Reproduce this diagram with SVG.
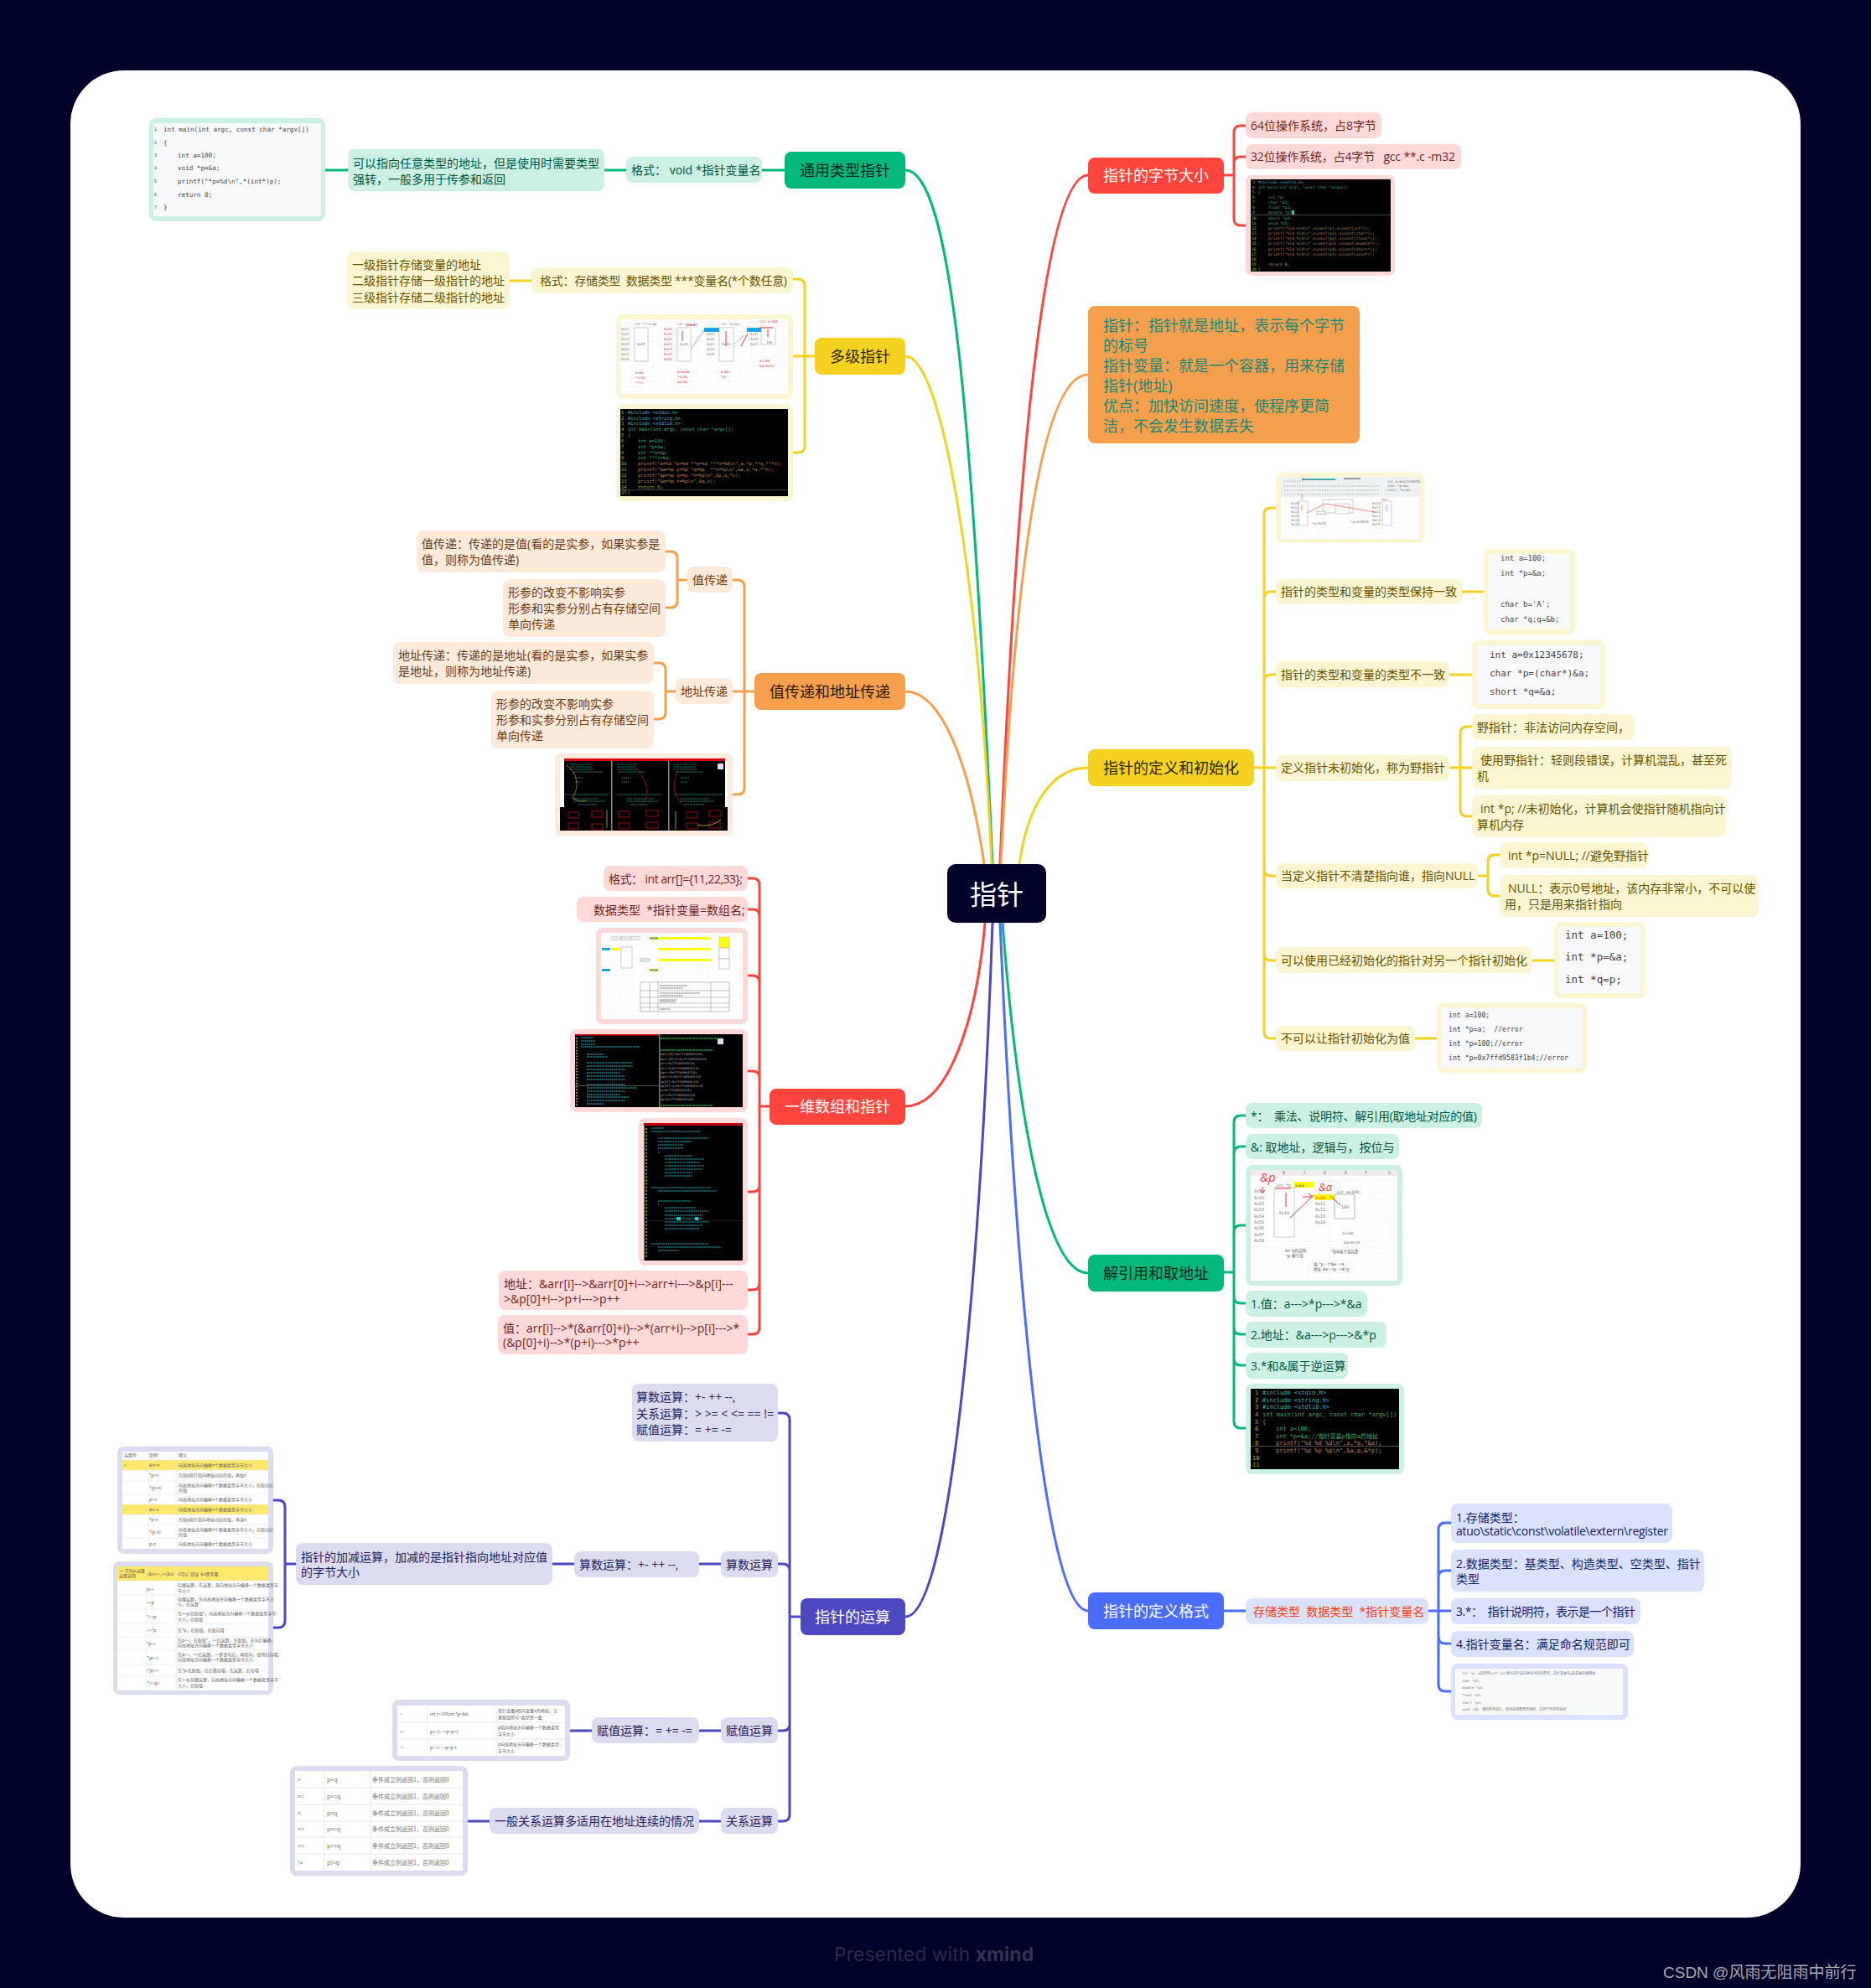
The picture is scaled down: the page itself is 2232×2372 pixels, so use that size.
<svg xmlns="http://www.w3.org/2000/svg" width="2232" height="2372" viewBox="0 0 2232 2372">
<style>
text{white-space:pre;font-family:"Open Sans","Noto Sans CJK SC",sans-serif;font-size:14px;font-variant-ligatures:none;font-feature-settings:"liga" 0,"calt" 0}
.m{font-size:18px;text-anchor:middle}
.w{fill:#fff}.dk{fill:#10231b}
.gl{fill:#ccf1e4}.rl{fill:#ffd9d8}.yl{fill:#fcf5d2}.ol{fill:#fdeadb}.bl{fill:#dbe2fe}.pl{fill:#dcdcf1}
.tg{fill:#00563d}.tr{fill:#701f1c}.ty{fill:#655300}.to{fill:#6c3c10}.tb{fill:#13206b}.tp{fill:#23215e}
.lk{fill:none;stroke-width:3;stroke-linecap:butt}
.cg{stroke:#00b97a}.cr{stroke:#ff443d}.cy{stroke:#f4d21f}.co{stroke:#f6a04d}.cb{stroke:#4a6cff}.cp{stroke:#4c48c0}
.pap{fill:#f8f9fb}.blk{fill:#000}
.c{font-family:"DejaVu Sans Mono","Noto Sans CJK SC",monospace;fill:#444}
.ln{fill:#b0b000}.cd{fill:#3fae6e}.cy2{fill:#2fb8c8}.cs{fill:#b58a5a}
.tt{font-size:5px;fill:#555;font-family:"Noto Sans CJK SC",sans-serif}
.ti{font-size:4px;fill:#777;font-family:"DejaVu Sans Mono","Noto Sans CJK SC",monospace}
.sq{fill:#fff;stroke:#aaa;stroke-width:.6}
.rd{stroke:#f33;stroke-width:1;fill:none}
</style>
<defs>
<pattern id="grid" width="13" height="6" patternUnits="userSpaceOnUse"><path d="M13 0V6M0 6H13" fill="none" stroke="#ececec" stroke-width=".6"/></pattern>
<pattern id="grid2" width="24.4" height="7.3" patternUnits="userSpaceOnUse"><path d="M24.4 0V7.3M0 7.3H24.4" fill="none" stroke="#eeeeee" stroke-width=".8"/></pattern>
</defs>
<rect width="2232" height="2372" fill="#000229"/>
<rect x="84" y="84" width="2064" height="2204" rx="64" fill="#fff"/>

<g id="connectors" class="links">
<path class="lk cg" d="M1080 203C1135 203 1160 500 1184 1031"/>
<path class="lk cy" d="M1080 425C1125 425 1168 700 1183 1031"/>
<path class="lk co" d="M1080 825C1120 825 1155 900 1174 1031"/>
<path class="lk cr" d="M1080 1320C1130 1320 1165 1220 1175 1101"/>
<path class="lk cp" d="M1080 1929C1135 1929 1170 1500 1184 1101"/>
<path class="lk cr" d="M1298 209C1250 209 1215 500 1193 1031"/>
<path class="lk co" d="M1298 447C1240 447 1210 700 1194 1031"/>
<path class="lk cy" d="M1298 916C1255 916 1226 960 1216 1031"/>
<path class="lk cg" d="M1298 1519C1250 1519 1215 1350 1196 1101"/>
<path class="lk cb" d="M1298 1922C1245 1922 1210 1500 1193 1101"/>

<path class="lk cg" d="M388 203H415M720 203H747M909 203H936"/>
<path class="lk cy" d="M608 335H634M946 425H972"/>
<path class="lk cy" d="M946 333H952Q960 333 960 341V532Q960 540 952 540H946"/>
<path class="lk co" d="M900 825H874"/>
<path class="lk co" d="M874 692H880Q888 692 888 700V940Q888 948 880 948H874"/>
<path class="lk co" d="M820 692H808M794 658H800Q808 658 808 666V717Q808 725 800 725H794"/>
<path class="lk co" d="M806 825H794M780 791H786Q794 791 794 799V850Q794 858 786 858H780"/>
<path class="lk cr" d="M918 1320H906"/>
<path class="lk cr" d="M892 1048H898Q906 1048 906 1056V1584Q906 1592 898 1592H892M892 1085H898Q906 1085 906 1093M892 1164H898Q906 1164 906 1172M892 1278H898Q906 1278 906 1286M892 1422H898Q906 1422 906 1414M892 1539H898Q906 1539 906 1531"/>
<path class="lk cp" d="M955 1929H942"/>
<path class="lk cp" d="M928 1686H934Q942 1686 942 1694V2165Q942 2173 934 2173H928M928 1866H934Q942 1866 942 1874M928 2065H934Q942 2065 942 2057"/>
<path class="lk cp" d="M860 1866H834M685 1866H659M860 2065H834M706 2065H680M860 2173H834M584 2173H558"/>
<path class="lk cp" d="M353 1866H340M326 1790H332Q340 1790 340 1798V1934Q340 1942 332 1942H326"/>
<path class="lk cr" d="M1460 209H1472M1486 150H1480Q1472 150 1472 158V261Q1472 269 1480 269H1486M1486 187H1480Q1472 187 1472 195"/>
<path class="lk cy" d="M1496 916H1508M1522 606H1516Q1508 606 1508 614V1231Q1508 1239 1516 1239H1522M1522 706H1516Q1508 706 1508 714M1522 805H1516Q1508 805 1508 813M1522 916H1508M1522 1045H1516Q1508 1045 1508 1037M1522 1146H1516Q1508 1146 1508 1138"/>
<path class="lk cy" d="M1744 706H1770M1729 805H1756M1828 1146H1854M1688 1239H1714"/>
<path class="lk cy" d="M1729 916H1756M1756 867H1750Q1742 867 1742 875V966Q1742 974 1750 974H1756"/>
<path class="lk cy" d="M1763 1045H1775M1789 1020H1783Q1775 1020 1775 1028V1061Q1775 1069 1783 1069H1789"/>
<path class="lk cg" d="M1460 1518H1472M1486 1331H1480Q1472 1331 1472 1339V1696Q1472 1704 1480 1704H1486M1486 1368H1480Q1472 1368 1472 1376M1486 1462H1480Q1472 1462 1472 1470M1486 1555H1480Q1472 1555 1472 1547M1486 1592H1480Q1472 1592 1472 1584M1486 1629H1480Q1472 1629 1472 1621"/>
<path class="lk cb" d="M1460 1922H1486M1704 1922H1731M1731 1817H1724Q1716 1817 1716 1825V2010Q1716 2018 1724 2018H1731M1731 1874H1724Q1716 1874 1716 1882M1731 1961H1724Q1716 1961 1716 1953"/>
</g>

<g id="root"><rect x="1130" y="1031" width="118" height="70" rx="10" fill="#000229"/><text class="m w" x="1189" y="1079" style="font-size:32px">指针</text></g>

<g id="n-void"><rect x="936" y="181" width="144" height="44" rx="8" fill="#00b97a"/><text class="m dk" x="1008" y="210">通用类型指针</text></g>
<g id="n-void-fmt"><rect class="gl" x="747" y="187" width="162" height="31" rx="8"/><text class="tg" x="753" y="208">格式： void *指针变量名</text></g>
<g id="n-void-desc"><rect class="gl" x="415" y="178" width="306" height="50" rx="8"/><text class="tg" x="421" y="200">可以指向任意类型的地址，但是使用时需要类型</text><text class="tg" x="421" y="219">强转，一般多用于传参和返回</text></g>
<g id="n-void-img"><rect class="gl" x="178" y="141" width="210" height="123" rx="8"/><rect class="pap" x="183" y="147" width="200" height="111"/>
<g><text class="c" style="font-size:7.6px" x="195" y="157">int main(int argc, const char *argv[])</text><text class="c" style="font-size:7.6px" x="195" y="173">{</text><text class="c" style="font-size:7.6px" x="212" y="188">int a=100;</text><text class="c" style="font-size:7.6px" x="212" y="203">void *p=&amp;a;</text><text class="c" style="font-size:7.6px" x="212" y="219">printf("*p=%d\n",*(int*)p);</text><text class="c" style="font-size:7.6px" x="212" y="235">return 0;</text><text class="c" style="font-size:7.6px" x="195" y="250">}</text>
<text class="c" style="font-size:5px" x="184" y="156">1</text><text class="c" style="font-size:5px" x="184" y="172">2</text><text class="c" style="font-size:5px" x="184" y="187">3</text><text class="c" style="font-size:5px" x="184" y="202">4</text><text class="c" style="font-size:5px" x="184" y="218">5</text><text class="c" style="font-size:5px" x="184" y="234">6</text><text class="c" style="font-size:5px" x="184" y="249">7</text></g></g>

<g id="n-multi"><rect x="972" y="403" width="108" height="44" rx="8" fill="#f4d21f"/><text class="m" fill="#2a2400" x="1026" y="432">多级指针</text></g>
<g id="n-multi-fmt"><rect class="yl" x="634" y="319" width="312" height="31" rx="8"/><text class="ty" x="644" y="340" textLength="295">格式：存储类型  数据类型 ***变量名(*个数任意)</text></g>
<g id="n-multi-desc"><rect class="yl" x="414" y="300" width="194" height="69" rx="8"/><text class="ty" x="420" y="321">一级指针存储变量的地址</text><text class="ty" x="420" y="340">二级指针存储一级指针的地址</text><text class="ty" x="420" y="360">三级指针存储二级指针的地址</text></g>
<g id="n-multi-img1"><rect class="yl" x="735" y="375" width="211" height="101" rx="8"/><rect x="740" y="381" width="200" height="89" fill="#fff"/><rect x="740" y="381" width="200" height="89" fill="url(#grid)"/>
<rect class="sq" x="757" y="391" width="16" height="40"/><rect class="sq" x="808" y="391" width="16" height="40"/><rect class="sq" x="858" y="391" width="17" height="40"/><rect class="sq" x="908" y="391" width="17" height="20"/>
<rect x="840" y="391" width="18" height="5" fill="#1aa7e8"/><rect x="891" y="391" width="17" height="5" fill="#1aa7e8"/>
<path class="rd" d="M814 395V407M866 395V413M906 391L922 391M916 393V402M884 413L892 398M818 388H829"/><path d="M824 417L840 394M875 411L888 400" stroke="#999" fill="none" stroke-width=".7"/>
<text class="ti" x="757" y="388">int ***n=&amp;q</text><text class="ti" x="808" y="388">int **q=&amp;p</text><text class="ti" x="860" y="388">int *p=&amp;a</text><text class="ti" x="906" y="385" style="fill:#f33">int a=100</text>
<text class="ti" x="741" y="394">0x12</text><text class="ti" x="741" y="400">0x13</text><text class="ti" x="741" y="406">0x14</text><text class="ti" x="741" y="412">0x15</text><text class="ti" x="741" y="418">0x16</text><text class="ti" x="741" y="424">0x17</text><text class="ti" x="741" y="430">0x18</text>
<text class="ti" x="792" y="394" style="fill:#f33">0x20</text><text class="ti" x="792" y="400" style="fill:#f33">0x21</text><text class="ti" x="792" y="406" style="fill:#f33">0x22</text><text class="ti" x="792" y="412" style="fill:#f33">0x23</text><text class="ti" x="792" y="418" style="fill:#f33">0x24</text><text class="ti" x="792" y="424" style="fill:#f33">0x25</text><text class="ti" x="792" y="430" style="fill:#f33">0x26</text>
<text class="ti" x="843" y="400">0x31</text><text class="ti" x="843" y="406">0x32</text><text class="ti" x="843" y="412">0x33</text><text class="ti" x="843" y="418">0x34</text><text class="ti" x="843" y="424">0x35</text>
<text class="ti" x="895" y="400">0x41</text><text class="ti" x="895" y="406">0x42</text><text class="ti" x="895" y="412">0x43</text><text class="ti" x="760" y="412">0x20</text><text class="ti" x="811" y="412">0x30</text><text class="ti" x="861" y="412">0x10</text><text class="ti" x="914" y="410">100</text>
<text class="ti" style="fill:#e33" x="758" y="446">a=0x</text><text class="ti" style="fill:#e33" x="758" y="452">*n=0x</text><text class="ti" style="fill:#e33" x="758" y="458">**n=</text><text class="ti" style="fill:#e33" x="808" y="445">q=0x20</text><text class="ti" style="fill:#e33" x="808" y="451">*q=0x</text><text class="ti" style="fill:#e33" x="808" y="457">&amp;q=0x</text><text class="ti" style="fill:#e33" x="860" y="445">p=&amp;a</text><text class="ti" style="fill:#e33" x="860" y="451">*p=</text><text class="ti" style="fill:#e33" x="906" y="432">a=100</text><text class="ti" style="fill:#e33" x="906" y="438">&amp;a=0x10</text></g>
<g id="n-multi-img2"><rect class="yl" x="735" y="482" width="211" height="116" rx="8"/><rect class="blk" x="740" y="488" width="200" height="104"/>
<g><text class="c ln" style="font-size:5.5px" x="741" y="494">1</text><text class="c cy2" style="font-size:5.5px" x="749" y="494">#include &lt;stdio.h&gt;</text><text class="c ln" style="font-size:5.5px" x="741" y="501">2</text><text class="c cy2" style="font-size:5.5px" x="749" y="501">#include &lt;string.h&gt;</text><text class="c ln" style="font-size:5.5px" x="741" y="507">3</text><text class="c cy2" style="font-size:5.5px" x="749" y="507">#include &lt;stdlib.h&gt;</text><text class="c ln" style="font-size:5.5px" x="741" y="514">4</text><text class="c cd" style="font-size:5.5px" x="749" y="514">int main(int argc, const char *argv[])</text><text class="c ln" style="font-size:5.5px" x="741" y="521">5</text><text class="c cd" style="font-size:5.5px" x="749" y="521">{</text>
<text class="c ln" style="font-size:5.5px" x="741" y="528">6</text><text class="c cd" style="font-size:5.5px" x="761" y="528">int a=100;</text><text class="c ln" style="font-size:5.5px" x="741" y="535">7</text><text class="c cd" style="font-size:5.5px" x="761" y="535">int *p=&amp;a;</text><text class="c ln" style="font-size:5.5px" x="741" y="542">8</text><text class="c cd" style="font-size:5.5px" x="761" y="542">int **q=&amp;p;</text><text class="c ln" style="font-size:5.5px" x="741" y="548">9</text><text class="c cd" style="font-size:5.5px" x="761" y="548">int ***n=&amp;q;</text>
<text class="c ln" style="font-size:5.5px" x="741" y="555">10</text><text class="c cs" style="font-size:5.5px" x="761" y="555">printf("a=%d *p=%d **q=%d ***n=%d\n",a,*p,**q,***n);</text><text class="c ln" style="font-size:5.5px" x="741" y="562">11</text><text class="c cs" style="font-size:5.5px" x="761" y="562">printf("&amp;a=%p p=%p *q=%p  **n=%p\n",&amp;a,p,*q,**n);</text><text class="c ln" style="font-size:5.5px" x="741" y="569">12</text><text class="c cs" style="font-size:5.5px" x="761" y="569">printf("&amp;p=%p q=%p *n=%p\n",&amp;p,q,*n);</text><text class="c ln" style="font-size:5.5px" x="741" y="576">13</text><text class="c cs" style="font-size:5.5px" x="761" y="576">printf("&amp;q=%p n=%p\n",&amp;q,n);</text><text class="c ln" style="font-size:5.5px" x="741" y="583">14</text><text class="c ln" style="font-size:5.5px" x="761" y="583">return 0;</text><text class="c ln" style="font-size:5.5px" x="741" y="589">15</text><text class="c cd" style="font-size:5.5px" x="749" y="589">}</text></g>
<rect x="740" y="584" width="200" height=".8" fill="#555"/></g>

<g id="n-pass"><rect x="900" y="803" width="180" height="44" rx="8" fill="#f6a04d"/><text class="m" fill="#2b1600" x="990" y="832">值传递和地址传递</text></g>
<g id="n-val"><rect class="ol" x="820" y="676" width="54" height="31" rx="8"/><text class="to" x="826" y="697">值传递</text></g>
<g id="n-val-a"><rect class="ol" x="497" y="633" width="297" height="50" rx="8"/><text class="to" x="503" y="654">值传递：传递的是值(看的是实参，如果实参是</text><text class="to" x="503" y="673">值，则称为值传递)</text></g>
<g id="n-val-b"><rect class="ol" x="600" y="691" width="194" height="69" rx="8"/><text class="to" x="606" y="712">形参的改变不影响实参</text><text class="to" x="606" y="731">形参和实参分别占有存储空间</text><text class="to" x="606" y="750">单向传递</text></g>
<g id="n-addr"><rect class="ol" x="806" y="809" width="68" height="31" rx="8"/><text class="to" x="812" y="830">地址传递</text></g>
<g id="n-addr-a"><rect class="ol" x="469" y="766" width="311" height="50" rx="8"/><text class="to" x="475" y="787">地址传递：传递的是地址(看的是实参，如果实参</text><text class="to" x="475" y="806">是地址，则称为地址传递)</text></g>
<g id="n-addr-b"><rect class="ol" x="586" y="824" width="194" height="69" rx="8"/><text class="to" x="592" y="845">形参的改变不影响实参</text><text class="to" x="592" y="864">形参和实参分别占有存储空间</text><text class="to" x="592" y="883">单向传递</text></g>
<g id="n-pass-img"><rect class="ol" x="662" y="899" width="212" height="98" rx="8"/><rect x="668" y="905" width="200" height="86" fill="#fff"/><rect class="blk" x="673" y="907" width="192" height="84"/><rect class="blk" x="668" y="963" width="200" height="28"/>
<rect x="673" y="905" width="192" height="3" fill="#d8000c"/><rect x="729" y="908" width="1.5" height="83" fill="#888"/><rect x="797" y="908" width="1.5" height="83" fill="#888"/><rect x="856" y="911" width="7" height="7" fill="#dde"/>
<path d="M680 912H708M680 915H706M680 918H708M684 921H718M686 928H696M686 933H694M674 948H726M684 953H714M684 956H722M690 960H712M736 912H760M736 915H758M736 918H760M738 921H770M742 928H752M742 933H750M736 948H790M748 953H780M748 956H786M752 960H772M804 912H832M804 915H830M804 918H832M806 921H838M812 928H822M812 933H820M804 948H862M812 953H846M812 956H852M816 960H840" stroke="#1f8f7f" stroke-width="1" stroke-dasharray="1.5 .8" fill="none"/>
<path d="M676 913Q696 930 683 952Q692 958 700 955" stroke="#c8c800" fill="none" stroke-width=".6"/><path d="M760 917Q782 945 764 960" stroke="#d22" fill="none" stroke-width=".6"/><path d="M808 920Q798 945 815 960" stroke="#d22" fill="none" stroke-width=".6"/>
<path d="M678 969h12v7h-12zM678 982h12v7h-12zM706 968h13v7h-13zM706 983h13v7h-13zM738 968h13v7h-13zM738 982h13v7h-13zM771 967h14v7h-14zM771 981h14v7h-14zM819 969h13v7h-13zM819 982h13v7h-13zM846 967h14v7h-14zM846 981h14v7h-14z" fill="none" stroke="#d11" stroke-width=".7"/>
<path d="M724 966V988M806 968V990M832 984Q848 988 860 978" stroke="#d8d800" fill="none" stroke-width=".7"/></g>

<g id="n-arr"><rect x="918" y="1299" width="162" height="43" rx="8" fill="#ff443d"/><text class="m w" x="999" y="1327">一维数组和指针</text></g>
<g id="n-arr-a"><rect class="rl" x="720" y="1033" width="172" height="30" rx="8"/><text class="tr" x="726" y="1054" textLength="160">格式： int arr[]={11,22,33};</text></g>
<g id="n-arr-b"><rect class="rl" x="688" y="1070" width="204" height="30" rx="8"/><text class="tr" x="708" y="1091">数据类型  *指针变量=数组名;</text></g>
<g id="n-arr-img1"><rect class="rl" x="711" y="1107" width="181" height="115" rx="8"/><rect x="717" y="1113" width="169" height="103" fill="#fff"/><rect x="717" y="1113" width="169" height="103" fill="url(#grid)"/>
<rect x="785" y="1118" width="63" height="3" fill="#ff0"/><rect x="785" y="1131" width="63" height="3" fill="#ff0"/><rect x="785" y="1144" width="63" height="3" fill="#ff0"/><rect x="775" y="1118" width="10" height="3" fill="#8bc34a"/><rect x="775" y="1156" width="10" height="3" fill="#8bc34a"/><rect x="718" y="1131" width="10" height="3" fill="#1aa7e8"/><rect x="718" y="1156" width="10" height="3" fill="#1aa7e8"/><rect x="729" y="1131" width="11" height="3" fill="#ff0"/>
<rect x="858" y="1118" width="12" height="13" fill="#ff0" stroke="#bbb" stroke-width=".5"/><rect class="sq" x="858" y="1131" width="12" height="13"/><rect class="sq" x="858" y="1144" width="12" height="12"/><rect class="sq" x="741" y="1130" width="13" height="25"/><rect x="764" y="1144" width="11" height="3" fill="none" stroke="#4a4" stroke-width=".6"/>
<path d="M729 1118H764M729 1121H764M741 1118V1121M752 1118V1121M764 1172H870M764 1182H870M764 1190H870M764 1197H870M764 1202H870M764 1207H870M764 1172V1207M775 1172V1207M785 1172V1207M848 1172V1207M870 1172V1207" stroke="#999" stroke-width=".6" fill="none"/>
<path d="M787 1176H820M787 1179H815M787 1185H835M787 1188H815M787 1193H808M787 1195H806M787 1204H800" stroke="#666" stroke-width="1" fill="none" stroke-dasharray="1.5 .6"/></g>
<g id="n-arr-img2"><rect class="rl" x="680" y="1228" width="212" height="99" rx="8"/><rect class="blk" x="686" y="1234" width="200" height="87"/><rect x="686" y="1234" width="100" height="1.5" fill="#d8000c"/><rect x="786" y="1234" width="1.5" height="87" fill="#777"/><rect x="856" y="1239" width="7" height="7" fill="#dde"/>
<path d="M693 1238H708M693 1242H710M693 1246H710M693 1249H763M700 1258H720M700 1261H725M700 1268H755M700 1272H755M700 1276H745M700 1280H740M700 1284H745M700 1288H745M700 1294H745M700 1298H760M700 1302H745M700 1306H740M700 1309H750M700 1313H745M700 1317H720" stroke="#1f8f9f" stroke-width="1.4" stroke-dasharray="1.5 .8" fill="none"/><path d="M688 1238V1319" stroke="#998800" stroke-width="2" stroke-dasharray="2 1.6"/><rect x="686" y="1295" width="100" height=".8" fill="#666"/>
<path d="M788 1239H860M788 1253H850M788 1319H850" stroke="#2ea043" stroke-width="1.5" stroke-dasharray="2 .6" fill="none"/>
<g><text class="ti" style="font-size:3.8px;fill:#aaa" x="788" y="1259">&amp;arr[0]=0x7ffd89d4510c</text><text class="ti" style="font-size:3.8px;fill:#aaa" x="788" y="1265">&amp;arr[0]+1=0x7ffd89d45110</text><text class="ti" style="font-size:3.8px;fill:#aaa" x="788" y="1270">arr=0x7ffd89d4510c</text><text class="ti" style="font-size:3.8px;fill:#aaa" x="788" y="1276">arr+1=0x7ffd89d45110</text><text class="ti" style="font-size:3.8px;fill:#aaa" x="788" y="1281">&amp;arr=0x7ffd89d4510c</text><text class="ti" style="font-size:3.8px;fill:#aaa" x="788" y="1286">&amp;arr+1=0x7ffd89d45118</text><text class="ti" style="font-size:3.8px;fill:#aaa" x="788" y="1292">&amp;p[0]=0x7ffd89d4510c</text><text class="ti" style="font-size:3.8px;fill:#aaa" x="788" y="1297">&amp;p[0]+1=0x7ffd89d45110</text><text class="ti" style="font-size:3.8px;fill:#aaa" x="788" y="1302">p=0x7ffd89d4510c</text><text class="ti" style="font-size:3.8px;fill:#aaa" x="788" y="1308">p+1=0x7ffd89d45110</text><text class="ti" style="font-size:3.8px;fill:#aaa" x="788" y="1313">&amp;p=0x7ffd89d45100</text></g></g>
<g id="n-arr-img3"><rect class="rl" x="762" y="1334" width="130" height="176" rx="8"/><rect class="blk" x="768" y="1340" width="118" height="164"/><rect x="768" y="1340" width="118" height="3" fill="#c00010"/><rect x="768" y="1343" width="1" height="161" fill="#777"/>
<path d="M771 1346V1500" stroke="#998800" stroke-width="2.2" stroke-dasharray="2 2.1"/>
<path d="M777 1346H792M777 1350H835M785 1358H845M785 1362H825M785 1366H815M785 1370H815M785 1375H787M793 1379H825M793 1383H840M793 1387H835M793 1391H840M793 1395H838M793 1399H825M793 1403H825M777 1417H848M785 1421H855M785 1433H825M785 1437H786M793 1441H830M793 1445H845M793 1450H838M793 1454H838M793 1458H845M793 1462H838M793 1466H835M777 1484H845M785 1488H860M785 1492H810" stroke="#14808a" stroke-width="1.4" stroke-dasharray="1.5 .7" fill="none"/>
<rect x="768" y="1456" width="118" height=".6" fill="#333"/><rect x="807" y="1452" width="5" height="4" fill="#1cc"/><rect x="829" y="1452" width="4" height="4" fill="#1cc"/></g>
<g id="n-arr-c"><rect class="rl" x="595" y="1516" width="297" height="47" rx="8"/><text class="tr" x="601" y="1537">地址：&amp;arr[i]--&gt;&amp;arr[0]+i--&gt;arr+i---&gt;&amp;p[i]---</text><text class="tr" x="601" y="1555">&gt;&amp;p[0]+i--&gt;p+i---&gt;p++</text></g>
<g id="n-arr-d"><rect class="rl" x="594" y="1569" width="298" height="47" rx="8"/><text class="tr" x="600" y="1590">值：arr[i]--&gt;*(&amp;arr[0]+i)--&gt;*(arr+i)--&gt;p[i]---&gt;*</text><text class="tr" x="600" y="1607">(&amp;p[0]+i)--&gt;*(p+i)---&gt;*p++</text></g>

<g id="n-calc"><rect x="955" y="1907" width="125" height="44" rx="8" fill="#4c48c0"/><text class="m w" x="1017" y="1936">指针的运算</text></g>
<g id="n-calc-top"><rect class="pl" x="754" y="1651" width="174" height="69" rx="8"/><text class="tp" x="759" y="1672">算数运算：+- ++ --,</text><text class="tp" x="759" y="1692">关系运算：&gt; &gt;= &lt; &lt;= == !=</text><text class="tp" x="759" y="1711">赋值运算：= += -=</text></g>
<g id="n-calc-a"><rect class="pl" x="860" y="1851" width="68" height="31" rx="8"/><text class="tp" x="866" y="1872">算数运算</text></g>
<g id="n-calc-a1"><rect class="pl" x="685" y="1851" width="149" height="31" rx="8"/><text class="tp" x="691" y="1872">算数运算：+- ++ --,</text></g>
<g id="n-calc-a2"><rect class="pl" x="353" y="1841" width="306" height="50" rx="8"/><text class="tp" x="359" y="1863">指针的加减运算，加减的是指针指向地址对应值</text><text class="tp" x="359" y="1881">的字节大小</text></g>
<g id="n-calc-t1"><rect class="pl" x="140" y="1726" width="186" height="128" rx="8"/><rect x="146" y="1732" width="174" height="116" fill="#fff"/><rect x="146" y="1742" width="174" height="12" fill="#ffe86b"/><rect x="146" y="1795" width="174" height="12" fill="#ffe86b"/>
<path d="M146 1742H320M146 1754H320M146 1767H320M146 1783H320M146 1795H320M146 1807H320M146 1819H320M146 1835H320M177 1732V1848M211 1732V1848" stroke="#e8e8e8" stroke-width=".7" fill="none"/>
<text class="tt" x="148" y="1738">运算符</text><text class="tt" x="178" y="1738">案例</text><text class="tt" x="213" y="1738">释义</text>
<text class="tt" x="148" y="1750">+</text><text class="tt" x="178" y="1750">&amp;a+n</text><text class="tt" x="213" y="1750">向高地址方向偏移n个数据类型字节大小</text>
<text class="tt" x="178" y="1762">*p+n</text><text class="tt" x="213" y="1762">先取p指针指向地址对应的值，再加n</text>
<text class="tt" x="178" y="1777">*(p+n)</text><text class="tt" x="213" y="1774">向高地址方向偏移n个数据类型字节大小，在取对应</text><text class="tt" x="213" y="1780">的值</text>
<text class="tt" x="178" y="1791">p+n</text><text class="tt" x="213" y="1791">向高地址方向偏移n个数据类型字节大小</text>
<text class="tt" x="148" y="1803">-</text><text class="tt" x="178" y="1803">&amp;a-n</text><text class="tt" x="213" y="1803">向低地址方向偏移n个数据类型字节大小</text>
<text class="tt" x="178" y="1815">*p-n</text><text class="tt" x="213" y="1815">先取p指针指向地址对应的值，再减n</text>
<text class="tt" x="178" y="1830">*(p-n)</text><text class="tt" x="213" y="1827">向低地址方向偏移n个数据类型字节大小，在取对应</text><text class="tt" x="213" y="1833">的值</text>
<text class="tt" x="178" y="1844">p-n</text><text class="tt" x="213" y="1844">向低地址方向偏移n个数据类型字节大小</text></g>
<g id="n-calc-t2"><rect class="pl" x="135" y="1863" width="191" height="159" rx="8"/><rect x="140" y="1869" width="180" height="148" fill="#fff"/><rect x="140" y="1869" width="180" height="17" fill="#ffe86b"/>
<path d="M140 1903H320M140 1920H320M140 1937H320M140 1953H320M140 1969H320M140 1986H320M140 2000H320M174 1869V2017M211 1869V2017" stroke="#e8e8e8" stroke-width=".7" fill="none"/>
<text class="tt" x="142" y="1876">++ 只有p,运算</text><text class="tt" x="142" y="1882">运算说明</text><text class="tt" x="176" y="1880">(&amp;a)++,++(&amp;a)</text><text class="tt" x="212" y="1880">a可以  错误  &amp;a是常量</text>
<text class="tt" x="175" y="1898">p++</text><text class="tt" x="212" y="1893">后缀运算，先运算，指向地址方向偏移一个数据类型字</text><text class="tt" x="212" y="1900">节大小</text>
<text class="tt" x="175" y="1914">++p</text><text class="tt" x="212" y="1910">前缀运算，先向高地址方向偏移一个数据类型字节大</text><text class="tt" x="212" y="1916">小，在运算</text>
<text class="tt" x="175" y="1931">*++p</text><text class="tt" x="212" y="1927">先++p,在取值*，向高地址方向偏移一个数据类型字节</text><text class="tt" x="212" y="1934">大小，在取值</text>
<text class="tt" x="175" y="1947">++*p</text><text class="tt" x="212" y="1947">先*p，在取值，在值自增</text>
<text class="tt" x="175" y="1963">*p++</text><text class="tt" x="212" y="1959">先p++，在取值*，++后运算，先取值，在向后偏移，</text><text class="tt" x="212" y="1965">向高地址方向偏移一个数据类型字节大小</text>
<text class="tt" x="175" y="1980">*(p++)</text><text class="tt" x="212" y="1976">先p++，++后运算，一条语句后，再指向，使用后自增，</text><text class="tt" x="212" y="1982">向高地址方向偏移一个数据类型字节大小</text>
<text class="tt" x="175" y="1995">(*p)++</text><text class="tt" x="212" y="1995">先*p,先取值，在后面自增，先运算，后自增</text>
<text class="tt" x="175" y="2010">*(++p)</text><text class="tt" x="212" y="2006">先++p,前缀运算，向高地址方向偏移一个数据类型字节</text><text class="tt" x="212" y="2013">大小，在取值</text></g>
<g id="n-calc-b"><rect class="pl" x="860" y="2049" width="68" height="31" rx="8"/><text class="tp" x="866" y="2070">赋值运算</text></g>
<g id="n-calc-b1"><rect class="pl" x="706" y="2049" width="128" height="31" rx="8"/><text class="tp" x="712" y="2070">赋值运算：= += -=</text></g>
<g id="n-calc-b2"><rect class="pl" x="468" y="2028" width="212" height="73" rx="8"/><rect x="474" y="2035" width="200" height="60" fill="#fff"/><path d="M474 2055H674M474 2075H674M510 2035V2095M592 2035V2095" stroke="#e4e4e4" stroke-width=".8" fill="none"/>
<text class="tt" x="477" y="2047">=</text><text class="tt" x="513" y="2047">int a=100;int *p=&amp;a;</text><text class="tt" x="594" y="2043">指针变量p指向变量a的地址，注</text><text class="tt" x="594" y="2051">意赋值符号=类型需一致</text>
<text class="tt" x="477" y="2068">+=</text><text class="tt" x="513" y="2068">p+=1---&gt;p=p+1</text><text class="tt" x="594" y="2063">p指向地址方向偏移一个数据类型</text><text class="tt" x="594" y="2071">字节大小</text>
<text class="tt" x="477" y="2087">-=</text><text class="tt" x="513" y="2087">p-=1---&gt;p=p-1</text><text class="tt" x="594" y="2083">p向低地址方向偏移一个数据类型</text><text class="tt" x="594" y="2091">字节大小</text></g>
<g id="n-calc-c"><rect class="pl" x="860" y="2157" width="68" height="31" rx="8"/><text class="tp" x="866" y="2178">关系运算</text></g>
<g id="n-calc-c1"><rect class="pl" x="584" y="2157" width="250" height="31" rx="8"/><text class="tp" x="590" y="2178">一般关系运算多适用在地址连续的情况</text></g>
<g id="n-calc-c2"><rect class="pl" x="346" y="2107" width="212" height="131" rx="8"/><rect x="352" y="2113" width="200" height="119" fill="#fff"/><path d="M352 2133H552M352 2153H552M352 2173H552M352 2192H552M352 2212H552M387 2113V2232M442 2113V2232" stroke="#e8e8e8" stroke-width="1" fill="none"/>
<g id="relrows"><text class="tt" style="font-size:7px;fill:#777" x="355" y="2126">&gt;</text><text class="tt" style="font-size:7px;fill:#777" x="390" y="2126">p&gt;q</text><text class="tt" style="font-size:7px;fill:#777" x="444" y="2126">条件成立则返回1，否则返回0</text>
<text class="tt" style="font-size:7px;fill:#777" x="355" y="2146">&gt;=</text><text class="tt" style="font-size:7px;fill:#777" x="390" y="2146">p&gt;=q</text><text class="tt" style="font-size:7px;fill:#777" x="444" y="2146">条件成立则返回1，否则返回0</text>
<text class="tt" style="font-size:7px;fill:#777" x="355" y="2166">&lt;</text><text class="tt" style="font-size:7px;fill:#777" x="390" y="2166">p&lt;q</text><text class="tt" style="font-size:7px;fill:#777" x="444" y="2166">条件成立则返回1，否则返回0</text>
<text class="tt" style="font-size:7px;fill:#777" x="355" y="2185">&lt;=</text><text class="tt" style="font-size:7px;fill:#777" x="390" y="2185">p&lt;=q</text><text class="tt" style="font-size:7px;fill:#777" x="444" y="2185">条件成立则返回1，否则返回0</text>
<text class="tt" style="font-size:7px;fill:#777" x="355" y="2205">==</text><text class="tt" style="font-size:7px;fill:#777" x="390" y="2205">p==q</text><text class="tt" style="font-size:7px;fill:#777" x="444" y="2205">条件成立则返回1，否则返回0</text>
<text class="tt" style="font-size:7px;fill:#777" x="355" y="2225">!=</text><text class="tt" style="font-size:7px;fill:#777" x="390" y="2225">p!=q</text><text class="tt" style="font-size:7px;fill:#777" x="444" y="2225">条件成立则返回1，否则返回0</text></g></g>

<g id="n-size"><rect x="1298" y="188" width="162" height="43" rx="8" fill="#ff443d"/><text class="m w" x="1379" y="216">指针的字节大小</text></g>
<g id="n-size-a"><rect class="rl" x="1486" y="134" width="162" height="31" rx="8"/><text class="tr" x="1492" y="155">64位操作系统，占8字节</text></g>
<g id="n-size-b"><rect class="rl" x="1486" y="172" width="257" height="30" rx="8"/><text class="tr" x="1492" y="192" textLength="244">32位操作系统，占4字节   gcc **.c -m32</text></g>
<g id="n-size-img"><rect class="rl" x="1486" y="209" width="178" height="120" rx="8"/><rect class="blk" x="1492" y="214" width="167" height="110"/><rect x="1492" y="256" width="167" height=".7" fill="#666"/><rect x="1541" y="251" width="3" height="5" fill="#1cc"/>
<g><text class="c cy2" style="font-size:4.7px" x="1501" y="219">#include &lt;stdlib.h&gt;</text><text class="c cd" style="font-size:4.7px" x="1501" y="225">int main(int argc, const char *argv[])</text><text class="c cd" style="font-size:4.7px" x="1501" y="231">{</text><text class="c cd" style="font-size:4.7px" x="1513" y="237">int *p;</text><text class="c cd" style="font-size:4.7px" x="1513" y="243">char *p1;</text><text class="c cd" style="font-size:4.7px" x="1513" y="249">float *p2;</text><text class="c cd" style="font-size:4.7px" x="1513" y="255">double *p3;</text><text class="c cd" style="font-size:4.7px" x="1513" y="262">short *p4;</text><text class="c cd" style="font-size:4.7px" x="1513" y="268">void *p5;</text>
<text class="c cs" style="font-size:4.7px" x="1513" y="274">printf("%ld %ld\n",sizeof(p),sizeof(int*));</text><text class="c cs" style="font-size:4.7px" x="1513" y="280">printf("%ld %ld\n",sizeof(p1),sizeof(char*));</text><text class="c cs" style="font-size:4.7px" x="1513" y="286">printf("%ld %ld\n",sizeof(p2),sizeof(float*));</text><text class="c cs" style="font-size:4.7px" x="1513" y="292">printf("%ld %ld\n",sizeof(p3),sizeof(double*));</text><text class="c cs" style="font-size:4.7px" x="1513" y="299">printf("%ld %ld\n",sizeof(p4),sizeof(short*));</text><text class="c cs" style="font-size:4.7px" x="1513" y="305">printf("%ld %ld\n",sizeof(p5),sizeof(void*));</text><text class="c ln" style="font-size:4.7px" x="1513" y="317">return 0;</text><text class="c cd" style="font-size:4.7px" x="1501" y="323">}</text></g>
<g><text class="c ln" style="font-size:4.7px" x="1494" y="219">3</text><text class="c ln" style="font-size:4.7px" x="1494" y="225">4</text><text class="c ln" style="font-size:4.7px" x="1494" y="231">5</text><text class="c ln" style="font-size:4.7px" x="1494" y="237">6</text><text class="c ln" style="font-size:4.7px" x="1494" y="243">7</text><text class="c ln" style="font-size:4.7px" x="1494" y="249">8</text><text class="c ln" style="font-size:4.7px" x="1494" y="255">9</text><text class="c ln" style="font-size:4.7px" x="1493" y="262">10</text><text class="c ln" style="font-size:4.7px" x="1493" y="268">11</text><text class="c ln" style="font-size:4.7px" x="1493" y="274">12</text><text class="c ln" style="font-size:4.7px" x="1493" y="280">13</text><text class="c ln" style="font-size:4.7px" x="1493" y="286">14</text><text class="c ln" style="font-size:4.7px" x="1493" y="292">15</text><text class="c ln" style="font-size:4.7px" x="1493" y="299">16</text><text class="c ln" style="font-size:4.7px" x="1493" y="305">17</text><text class="c ln" style="font-size:4.7px" x="1493" y="311">18</text><text class="c ln" style="font-size:4.7px" x="1493" y="317">19</text><text class="c ln" style="font-size:4.7px" x="1493" y="323">20</text></g></g>

<g id="n-def"><rect x="1298" y="365" width="324" height="164" rx="8" fill="#f6a04d"/><g><text fill="#13897b" style="font-size:18px" x="1316" y="395">指针：指针就是地址，表示每个字节</text><text fill="#13897b" style="font-size:18px" x="1316" y="419">的标号</text><text fill="#13897b" style="font-size:18px" x="1316" y="443">指针变量：就是一个容器，用来存储</text><text fill="#13897b" style="font-size:18px" x="1316" y="467">指针(地址)</text><text fill="#13897b" style="font-size:18px" x="1316" y="491">优点：加快访问速度，使程序更简</text><text fill="#13897b" style="font-size:18px" x="1316" y="515">洁，不会发生数据丢失</text></g></g>

<g id="n-init"><rect x="1298" y="894" width="198" height="44" rx="8" fill="#f4d21f"/><text class="m" fill="#2a2400" x="1397" y="923">指针的定义和初始化</text></g>
<g id="n-init-img"><rect class="yl" x="1522" y="564" width="177" height="84" rx="8"/><rect x="1528" y="569" width="165" height="74" fill="#fff"/><rect x="1528" y="593" width="165" height="50" fill="url(#grid)"/><rect x="1528" y="569" width="165" height="24" fill="#eff2f3"/>
<path d="M1532 574H1555M1532 580H1645M1532 585H1645M1532 590H1645" stroke="#aaa" stroke-width="1.2" stroke-dasharray="1.5 1.5" fill="none"/><rect x="1553" y="571" width="40" height="2" fill="#4aa"/><rect x="1603" y="570" width="20" height="2" fill="#999"/>
<text class="ti" x="1655" y="576">int a=0x12345678;</text><text class="ti" x="1655" y="581">char *p=&amp;a;</text><text class="ti" x="1655" y="586">short *q=&amp;a;</text>
<rect class="sq" x="1549" y="598" width="11" height="29"/><rect class="sq" x="1649" y="598" width="11" height="29"/><rect x="1578" y="596" width="36" height="16" fill="none" stroke="#aaa" stroke-width=".6"/><rect class="sq" x="1593" y="601" width="16" height="12"/><rect x="1571" y="610" width="10" height="3.5" fill="#fff" stroke="#4a4" stroke-width=".5"/>
<path d="M1553 602V609M1654 602V610M1553 590V596M1648 596H1655M1559 612L1581 601L1640 611" class="rd" style="stroke:#f66;stroke-width:.8"/>
<text class="ti" x="1540" y="602">0x10</text><text class="ti" x="1540" y="607">0x11</text><text class="ti" x="1540" y="612">0x12</text><text class="ti" x="1540" y="617">0x13</text><text class="ti" x="1540" y="622">0x14</text><text class="ti" x="1540" y="627">0x15</text><text class="ti" x="1637" y="602">0x10</text><text class="ti" x="1637" y="607">0x11</text><text class="ti" x="1637" y="612">0x12</text><text class="ti" x="1637" y="617">0x13</text><text class="ti" x="1637" y="622">0x14</text><text class="ti" x="1637" y="627">0x15</text><text class="ti" x="1565" y="626">*q=0x78</text><text class="ti" x="1611" y="624">*p=0x5678</text></g>
<g id="n-init-1"><rect class="yl" x="1522" y="691" width="222" height="30" rx="8"/><text class="ty" x="1528" y="711">指针的类型和变量的类型保持一致</text></g>
<g id="n-init-1c"><rect class="yl" x="1770" y="655" width="109" height="102" rx="8"/><rect class="pap" x="1776" y="661" width="97" height="90"/><text class="c" style="font-size:9px" x="1790" y="669">int a=100;</text><text class="c" style="font-size:9px" x="1790" y="687">int *p=&amp;a;</text><text class="c" style="font-size:9px" x="1790" y="724">char b='A';</text><text class="c" style="font-size:9px" x="1790" y="742">char *q;q=&amp;b;</text></g>
<g id="n-init-2"><rect class="yl" x="1522" y="789" width="207" height="31" rx="8"/><text class="ty" x="1528" y="810">指针的类型和变量的类型不一致</text></g>
<g id="n-init-2c"><rect class="yl" x="1756" y="764" width="159" height="82" rx="8"/><rect class="pap" x="1762" y="770" width="147" height="70"/><text class="c" style="font-size:11px" x="1777" y="785">int a=0x12345678;</text><text class="c" style="font-size:11px" x="1777" y="807">char *p=(char*)&amp;a;</text><text class="c" style="font-size:11px" x="1777" y="829">short *q=&amp;a;</text></g>
<g id="n-init-3"><rect class="yl" x="1522" y="901" width="207" height="31" rx="8"/><text class="ty" x="1528" y="921">定义指针未初始化，称为野指针</text></g>
<g id="n-init-3a"><rect class="yl" x="1756" y="852" width="194" height="31" rx="8"/><text class="ty" x="1762" y="873">野指针：非法访问内存空间，</text></g>
<g id="n-init-3b"><rect class="yl" x="1756" y="891" width="310" height="50" rx="8"/><text class="ty" x="1766" y="912">使用野指针：轻则段错误，计算机混乱，甚至死</text><text class="ty" x="1762" y="931">机</text></g>
<g id="n-init-3c"><rect class="yl" x="1756" y="949" width="303" height="50" rx="8"/><text class="ty" x="1766" y="970">int *p; //未初始化，计算机会使指针随机指向计</text><text class="ty" x="1762" y="989">算机内存</text></g>
<g id="n-init-4"><rect class="yl" x="1522" y="1030" width="241" height="30" rx="8"/><text class="ty" x="1528" y="1050">当定义指针不清楚指向谁，指向NULL</text></g>
<g id="n-init-4a"><rect class="yl" x="1789" y="1005" width="176" height="31" rx="8"/><text class="ty" x="1799" y="1026">int *p=NULL; //避免野指针</text></g>
<g id="n-init-4b"><rect class="yl" x="1789" y="1044" width="309" height="50" rx="8"/><text class="ty" x="1799" y="1065">NULL：表示0号地址，该内存非常小，不可以使</text><text class="ty" x="1795" y="1084">用，只是用来指针指向</text></g>
<g id="n-init-5"><rect class="yl" x="1522" y="1130" width="306" height="31" rx="8"/><text class="ty" x="1528" y="1151">可以使用已经初始化的指针对另一个指针初始化</text></g>
<g id="n-init-5c"><rect class="yl" x="1854" y="1100" width="109" height="91" rx="8"/><rect class="pap" x="1860" y="1106" width="97" height="79"/><text class="c" style="font-size:12.5px" x="1867" y="1120">int a=100;</text><text class="c" style="font-size:12.5px" x="1867" y="1146">int *p=&amp;a;</text><text class="c" style="font-size:12.5px" x="1867" y="1173">int *q=p;</text></g>
<g id="n-init-6"><rect class="yl" x="1522" y="1224" width="166" height="30" rx="8"/><text class="ty" x="1528" y="1244">不可以让指针初始化为值</text></g>
<g id="n-init-6c"><rect class="yl" x="1714" y="1197" width="179" height="83" rx="8"/><rect class="pap" x="1720" y="1203" width="167" height="71"/><text class="c" style="font-size:8.2px" x="1728" y="1214">int a=100;</text><text class="c" style="font-size:8.2px" x="1728" y="1231">int *p=a;  //error</text><text class="c" style="font-size:8.2px" x="1728" y="1248">int *p=100;//error</text><text class="c" style="font-size:8.2px" x="1728" y="1265">int *p=0x7ffd9583f1b4;//error</text></g>

<g id="n-deref"><rect x="1298" y="1497" width="162" height="44" rx="8" fill="#00b97a"/><text class="m dk" x="1379" y="1526">解引用和取地址</text></g>
<g id="n-deref-a"><rect class="gl" x="1486" y="1316" width="282" height="30" rx="8"/><text class="tg" x="1492" y="1337" textLength="270">*：  乘法、说明符、解引用(取地址对应的值)</text></g>
<g id="n-deref-b"><rect class="gl" x="1486" y="1353" width="183" height="30" rx="8"/><text class="tg" x="1492" y="1374">&amp;: 取地址，逻辑与，按位与</text></g>
<g id="n-deref-img"><rect class="gl" x="1486" y="1390" width="187" height="144" rx="8"/><rect x="1492" y="1396" width="175" height="132" fill="#fff"/><rect x="1492" y="1403" width="175" height="125" fill="url(#grid2)"/><rect x="1492" y="1396" width="175" height="7" fill="#eee"/>
<text class="ti" style="font-size:5px" x="1530" y="1401">B</text><text class="ti" style="font-size:5px" x="1555" y="1401">C</text><text class="ti" style="font-size:5px" x="1579" y="1401">D</text><text class="ti" style="font-size:5px" x="1604" y="1401">E</text><text class="ti" style="font-size:5px" x="1628" y="1401">F</text><text class="ti" style="font-size:5px" x="1656" y="1401">G</text>
<rect x="1544" y="1410" width="24" height="7" fill="#ff0"/><rect x="1568" y="1425" width="24" height="7" fill="#ff0"/><rect class="sq" x="1520" y="1417" width="24" height="59"/><rect x="1592" y="1425" width="24" height="29" fill="none" stroke="#888" stroke-width=".6"/>
<text x="1503" y="1410" fill="#f33" style="font-size:15px;font-style:italic">&amp;p</text><text x="1573" y="1421" fill="#f33" style="font-size:13px;font-style:italic">&amp;a</text>
<text class="ti" style="font-size:5px" x="1522" y="1416">int *p</text><text class="ti" style="font-size:4.5px;fill:#555" x="1545" y="1416">p=&amp;a</text><text class="ti" style="font-size:5px" x="1594" y="1424">int a=100;</text>
<text class="ti" style="font-size:5px" x="1496" y="1423">0x50</text><text class="ti" style="font-size:5px" x="1496" y="1431">0x51</text><text class="ti" style="font-size:5px" x="1496" y="1438">0x52</text><text class="ti" style="font-size:5px" x="1496" y="1445">0x53</text><text class="ti" style="font-size:5px" x="1496" y="1453">0x54</text><text class="ti" style="font-size:5px" x="1496" y="1460">0x55</text><text class="ti" style="font-size:5px" x="1496" y="1467">0x56</text><text class="ti" style="font-size:5px" x="1496" y="1475">0x57</text><text class="ti" style="font-size:5px" x="1496" y="1482">0x58</text>
<text class="ti" style="font-size:5px" x="1526" y="1449">0x10</text><text class="ti" style="font-size:5px;fill:#f44" x="1569" y="1431">0x10</text><text class="ti" style="font-size:5px" x="1569" y="1438">0x11</text><text class="ti" style="font-size:5px" x="1569" y="1445">0x12</text><text class="ti" style="font-size:5px" x="1569" y="1453">0x13</text><text class="ti" style="font-size:5px" x="1569" y="1460">0x14</text><text class="ti" style="font-size:5px" x="1600" y="1442">100</text>
<path class="rd" d="M1534 1423V1440M1539 1453L1567 1426M1554 1428H1566L1561 1424M1506 1416L1506 1422M1503 1420L1506 1424L1509 1420M1521 1418H1540M1587 1427L1599 1438"/>
<text class="ti" style="font-size:4.5px" x="1601" y="1473">a=100</text><text class="ti" style="font-size:4.5px" x="1603" y="1484">&amp;a=0x10</text><text class="tt" style="font-size:4.5px" x="1533" y="1494">int *p的说明</text><text class="tt" style="font-size:4.5px" x="1534" y="1500">*p: 解引用</text><text class="tt" style="font-size:4.5px" x="1588" y="1495">*和&amp;属于逆运算</text><text class="tt" style="font-size:4.5px" x="1567" y="1510">值: *p---&gt;*&amp;a---&gt;a</text><text class="tt" style="font-size:4.5px" x="1567" y="1516">地址: &amp;a---&gt;p---&gt;&amp;*p</text></g>
<g id="n-deref-c"><rect class="gl" x="1486" y="1540" width="145" height="31" rx="8"/><text class="tg" x="1492" y="1561">1.值：a---&gt;*p---&gt;*&amp;a</text></g>
<g id="n-deref-d"><rect class="gl" x="1486" y="1577" width="168" height="31" rx="8"/><text class="tg" x="1492" y="1598">2.地址：&amp;a---&gt;p---&gt;&amp;*p</text></g>
<g id="n-deref-e"><rect class="gl" x="1486" y="1614" width="122" height="31" rx="8"/><text class="tg" x="1492" y="1635">3.*和&amp;属于逆运算</text></g>
<g id="n-deref-img2"><rect class="gl" x="1486" y="1651" width="189" height="108" rx="8"/><rect class="blk" x="1492" y="1657" width="177" height="96"/><rect x="1492" y="1725" width="177" height=".8" fill="#666"/>
<text class="c ln" style="font-size:7px" x="1497" y="1664">1</text><text class="c cy2" style="font-size:7px" x="1506" y="1664">#include &lt;stdio.h&gt;</text><text class="c ln" style="font-size:7px" x="1497" y="1673">2</text><text class="c cy2" style="font-size:7px" x="1506" y="1673">#include &lt;string.h&gt;</text><text class="c ln" style="font-size:7px" x="1497" y="1681">3</text><text class="c cy2" style="font-size:7px" x="1506" y="1681">#include &lt;stdlib.h&gt;</text><text class="c ln" style="font-size:7px" x="1497" y="1690">4</text><text class="c cd" style="font-size:7px" x="1506" y="1690">int main(int argc, const char *argv[])</text><text class="c ln" style="font-size:7px" x="1497" y="1699">5</text><text class="c cd" style="font-size:7px" x="1506" y="1699">{</text><text class="c ln" style="font-size:7px" x="1497" y="1707">6</text><text class="c cd" style="font-size:7px" x="1522" y="1707">int a=100;</text><text class="c ln" style="font-size:7px" x="1497" y="1716">7</text><text class="c cd" style="font-size:7px" x="1522" y="1716">int *p=&amp;a;//指针变量p指向a的地址</text><text class="c ln" style="font-size:7px" x="1497" y="1724">8</text><text class="c cs" style="font-size:7px" x="1522" y="1724">printf("%d %d %d\n",a,*p,*&amp;a);</text><text class="c ln" style="font-size:7px" x="1497" y="1733">9</text><text class="c cs" style="font-size:7px" x="1522" y="1733">printf("%p %p %p\n",&amp;a,p,&amp;*p);</text><text class="c ln" style="font-size:7px" x="1494" y="1742">10</text><text class="c ln" style="font-size:7px" x="1494" y="1750">11</text></g>

<g id="n-format"><rect x="1298" y="1900" width="162" height="44" rx="8" fill="#4a6cff"/><text class="m w" x="1379" y="1929">指针的定义格式</text></g>
<g id="n-format-main"><rect class="bl" x="1486" y="1907" width="218" height="31" rx="8"/><text fill="#ff3b00" x="1495" y="1928">存储类型  数据类型  *指针变量名</text></g>
<g id="n-format-1"><rect class="bl" x="1731" y="1794" width="264" height="47" rx="8"/><text class="tb" x="1737" y="1816">1.存储类型：</text><text class="tb" x="1737" y="1832" textLength="253">atuo\static\const\volatile\extern\register</text></g>
<g id="n-format-2"><rect class="bl" x="1731" y="1849" width="302" height="50" rx="8"/><text class="tb" x="1737" y="1871">2.数据类型：基类型、构造类型、空类型、指针</text><text class="tb" x="1737" y="1889">类型</text></g>
<g id="n-format-3"><rect class="bl" x="1731" y="1907" width="226" height="31" rx="8"/><text class="tb" x="1737" y="1928" textLength="214">3.*：  指针说明符，表示是一个指针</text></g>
<g id="n-format-4"><rect class="bl" x="1731" y="1946" width="218" height="31" rx="8"/><text class="tb" x="1737" y="1967">4.指针变量名：满足命名规范即可</text></g>
<g id="n-format-img"><rect class="bl" x="1731" y="1985" width="211" height="67" rx="8"/><rect class="pap" x="1736" y="1991" width="200" height="55"/><text class="ti" x="1744" y="1998">int *p; p的类型int*,int表示指针指向地址对应的类型，指针变量名p是变量的编辑量</text><text class="ti" x="1744" y="2007">char *p1;</text><text class="ti" x="1744" y="2015">double *p2;</text><text class="ti" x="1744" y="2024">float *p3;</text><text class="ti" x="1744" y="2033">short *p4;</text><text class="ti" x="1744" y="2041">void *p5; 通用类型指针，使用是需要类型强转，多用于传参和返回</text></g>

<g id="footer"><text x="995" y="2340" fill="#2a2a48" style="font-family:Inter,sans-serif;font-size:23px">Presented with <tspan font-weight="700" fill="#33334f">xmind</tspan></text><text x="1984" y="2360" fill="#a8a8b0" style="font-size:19px;font-family:'Liberation Sans','Noto Sans CJK SC',sans-serif">CSDN @风雨无阻雨中前行</text></g>
</svg>
